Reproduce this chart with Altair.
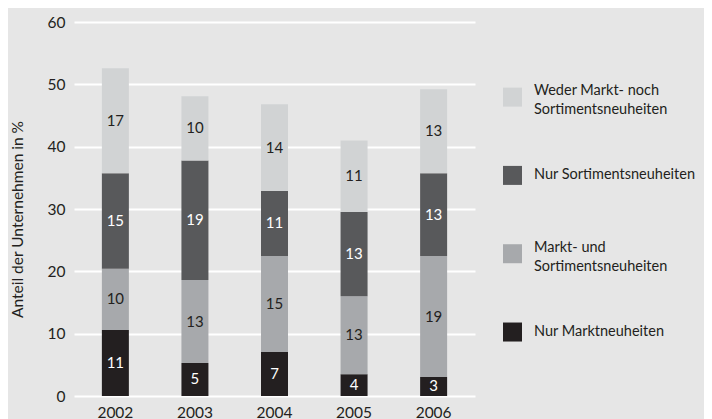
import altair as alt
import pandas as pd

years = ["2002", "2003", "2004", "2005", "2006"]
categories = [
    "Nur Marktneuheiten",
    "Markt- und Sortimentsneuheiten",
    "Nur Sortimentsneuheiten",
    "Weder Markt- noch Sortimentsneuheiten",
]
legend_text = [
    "Nur Marktneuheiten",
    "Markt- und|Sortimentsneuheiten",
    "Nur Sortimentsneuheiten",
    "Weder Markt- noch|Sortimentsneuheiten",
]
nur_markt = [10.6, 5.3, 7.05, 3.5, 3.05]
markt_und = [9.8, 13.3, 15.4, 12.5, 19.4]
nur_sort = [15.35, 19.2, 10.45, 13.5, 13.3]
weder = [16.85, 10.3, 13.9, 11.5, 13.45]
labels_nur_markt = ["11", "5", "7", "4", "3"]
labels_markt_und = ["10", "13", "15", "13", "19"]
labels_nur_sort = ["15", "19", "11", "13", "13"]
labels_weder = ["17", "10", "14", "11", "13"]
colors = ["#231f20", "#a7a9ac", "#58595b", "#d1d3d4"]
text_colors = ["#ffffff", "#231f20", "#ffffff", "#231f20"]

series = [nur_markt, markt_und, nur_sort, weder]
series_labels = [labels_nur_markt, labels_markt_und, labels_nur_sort, labels_weder]
rows = []
for ci, (cat, vals, labs) in enumerate(zip(categories, series, series_labels)):
    for y, v, l in zip(years, vals, labs):
        rows.append({"year": y, "cat": cat, "idx": ci, "value": v, "label": l,
                     "tcolor": text_colors[ci]})
df = pd.DataFrame(rows)

legend_df = pd.DataFrame({
    "cat": categories,
    "text": legend_text,
    "lines": [t.count("|") + 1 for t in legend_text],
})

FONT = "Lato"
INK = "#231f20"
legend_domain = categories[::-1]

x_enc = alt.X("year:N", scale=alt.Scale(paddingInner=0, paddingOuter=0.02),
              axis=alt.Axis(title=None, labelAngle=0, labelPadding=9, ticks=False,
                            domain=False, grid=False))
color_enc = alt.Color("cat:N", scale=alt.Scale(domain=categories, range=colors),
                      legend=None)

bars = alt.Chart(df).mark_bar(size=27).encode(
    x=x_enc,
    y=alt.Y("value:Q", stack="zero", scale=alt.Scale(domain=[0, 60], nice=False),
            axis=alt.Axis(values=[0, 10, 20, 30, 40, 50, 60],
                          title="Anteil der Unternehmen in %",
                          titlePadding=22, titleY=197, labelPadding=9,
                          ticks=False, domain=False)),
    color=color_enc,
    order=alt.Order("idx:Q"),
)

texts = alt.Chart(df).transform_stack(
    stack="value", groupby=["year"], as_=["y0", "y1"],
    sort=[alt.SortField("idx", order="ascending")],
).transform_calculate(
    ymid="(datum.y0 + datum.y1) / 2"
).mark_text(fontSize=15, font=FONT).encode(
    x=x_enc,
    y=alt.Y("ymid:Q"),
    text="label:N",
    color=alt.Color("tcolor:N", scale=None),
)

leg_y = alt.Y("cat:N", scale=alt.Scale(type="point", domain=legend_domain,
                                       padding=0.888, align=0.54),
              axis=None)
leg_base = alt.Chart(legend_df)
leg_sq = leg_base.mark_square(size=361, opacity=1, filled=True).encode(
    x=alt.value(438.5), y=leg_y, color=color_enc)
leg_txt1 = leg_base.transform_filter("datum.lines == 1").mark_text(
    align="left", baseline="middle", font=FONT, fontSize=14.5, color=INK,
    lineBreak="|").encode(x=alt.value(460), y=leg_y, text="text:N")
leg_txt2 = leg_base.transform_filter("datum.lines == 2").mark_text(
    align="left", baseline="middle", font=FONT, fontSize=14.5, color=INK,
    lineBreak="|", lineHeight=19, dy=-6).encode(x=alt.value(460), y=leg_y, text="text:N")

legend = alt.layer(leg_sq, leg_txt1, leg_txt2)

chart = alt.layer(alt.layer(bars, texts), legend).resolve_scale(y="independent").properties(
    width=401, height=374,
    autosize=alt.AutoSizeParams(type="none"),
    padding={"left": 66, "top": 14, "right": 229, "bottom": 24},
    background="#e6e6e6",
).configure_view(stroke=None).configure_axis(
    labelFont=FONT, titleFont=FONT, labelFontSize=15.5, titleFontSize=15.5,
    titleFontWeight="normal", labelColor=INK, titleColor=INK,
    gridColor="#ffffff", gridWidth=2,
)

chart.save("out.html", embed_options={"renderer": "svg", "actions": False})
